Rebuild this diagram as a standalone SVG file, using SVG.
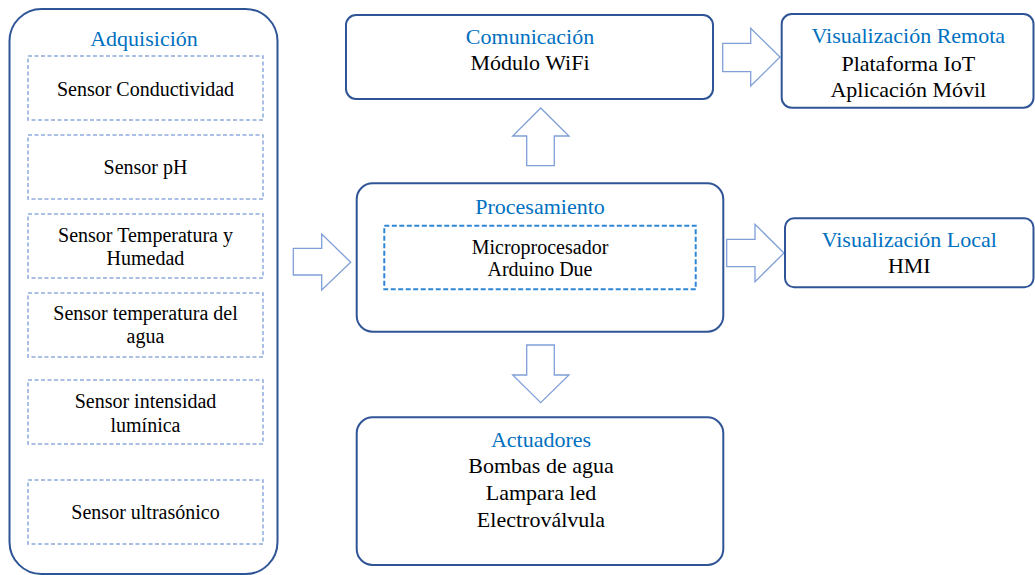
<svg xmlns="http://www.w3.org/2000/svg" width="1035" height="575" viewBox="0 0 1035 575" font-family="'Liberation Serif', Tinos, 'Times New Roman', 'DejaVu Serif', serif">
  <style>
    .box { fill: #ffffff; stroke: #2F5597; stroke-width: 2; }
    .sensor { fill: none; stroke: #8FAADC; stroke-width: 1.5; stroke-dasharray: 4 2.5; }
    .mcu { fill: none; stroke: #2E86D6; stroke-width: 2; stroke-dasharray: 5 2.5; }
    .arrow { fill: #ffffff; stroke: #7F9FD8; stroke-width: 1.3; stroke-linejoin: miter; }
    text { font-family: 'Liberation Serif', Tinos, 'Times New Roman', 'DejaVu Serif', serif; text-anchor: middle; }
    .title { font-size: 22px; fill: #0070C0; }
    .body { font-size: 22px; fill: #000000; }
    .small { font-size: 20px; fill: #000000; }
  </style>

  <!-- Block arrows between the blocks -->
  <g id="connectors">
    <polygon class="arrow" points="293.3,248.3 321.7,248.3 321.7,234 350.7,262.3 321.7,290 321.7,275 293.3,275"/>
    <polygon class="arrow" points="526.7,165.7 526.7,136 512.7,136 540.7,108 569,136 554.3,136 554.3,165.7"/>
    <polygon class="arrow" points="526.7,345 554.3,345 554.3,375 569,375 540.7,402.7 512.7,375 526.7,375"/>
    <polygon class="arrow" points="722.7,43.3 750.7,43.3 750.7,28.3 780,57 750.7,86 750.7,71.7 722.7,71.7"/>
    <polygon class="arrow" points="726.7,239.3 755,239.3 755,224.3 784,253 755,281.7 755,266.7 726.7,266.7"/>
  </g>

  <!-- Acquisition block with its sensors -->
  <g id="adquisicion">
    <rect class="box" x="9.5" y="9" width="268" height="565" rx="32" ry="32"/>
    <text class="title" x="144" y="46">Adquisición</text>
    <rect class="sensor" x="28" y="56" width="235" height="64"/>
    <text class="small" x="145.5" y="96">Sensor Conductividad</text>
    <rect class="sensor" x="28" y="135" width="235" height="64"/>
    <text class="small" x="145.5" y="173.5">Sensor pH</text>
    <rect class="sensor" x="28" y="214" width="235" height="64"/>
    <text class="small" x="145.5" y="242">Sensor Temperatura y</text>
    <text class="small" x="145.5" y="265">Humedad</text>
    <rect class="sensor" x="28" y="293" width="235" height="64"/>
    <text class="small" x="145.5" y="320">Sensor temperatura del</text>
    <text class="small" x="145.5" y="343">agua</text>
    <rect class="sensor" x="28" y="380" width="235" height="64"/>
    <text class="small" x="145.5" y="408">Sensor intensidad</text>
    <text class="small" x="145.5" y="431.5">lumínica</text>
    <rect class="sensor" x="28" y="480" width="235" height="64"/>
    <text class="small" x="145.5" y="518.5">Sensor ultrasónico</text>
  </g>

  <!-- Communication -->
  <g id="comunicacion">
    <rect class="box" x="346" y="15" width="367" height="84" rx="10" ry="10"/>
    <text class="title" x="530" y="43.5">Comunicación</text>
    <text class="body" x="530" y="70">Módulo WiFi</text>
  </g>

  <!-- Processing -->
  <g id="procesamiento">
    <rect class="box" x="356.7" y="183.3" width="366.6" height="148.4" rx="16" ry="16"/>
    <text class="title" x="540" y="213.5">Procesamiento</text>
    <rect class="mcu" x="384.3" y="225.7" width="311.4" height="63.6"/>
    <text class="small" x="540" y="253.5">Microprocesador</text>
    <text class="small" x="540" y="276">Arduino Due</text>
  </g>

  <!-- Actuators -->
  <g id="actuadores">
    <rect class="box" x="356.7" y="417.3" width="366.6" height="147.7" rx="16" ry="16"/>
    <text class="title" x="541" y="446.7">Actuadores</text>
    <text class="body" x="541" y="473.3">Bombas de agua</text>
    <text class="body" x="541" y="500">Lampara led</text>
    <text class="body" x="541" y="526.7">Electroválvula</text>
  </g>

  <!-- Remote visualisation -->
  <g id="visualizacion-remota">
    <rect class="box" x="781.7" y="14" width="251.8" height="93.7" rx="10" ry="10"/>
    <text class="title" x="908.3" y="43.3">Visualización Remota</text>
    <text class="body" x="908.3" y="70.7">Plataforma IoT</text>
    <text class="body" x="908.3" y="96.7">Aplicación Móvil</text>
  </g>

  <!-- Local visualisation -->
  <g id="visualizacion-local">
    <rect class="box" x="785" y="218.3" width="248.5" height="69" rx="9" ry="9"/>
    <text class="title" x="909.3" y="246.7">Visualización Local</text>
    <text class="body" x="909.3" y="272.7">HMI</text>
  </g>
</svg>
